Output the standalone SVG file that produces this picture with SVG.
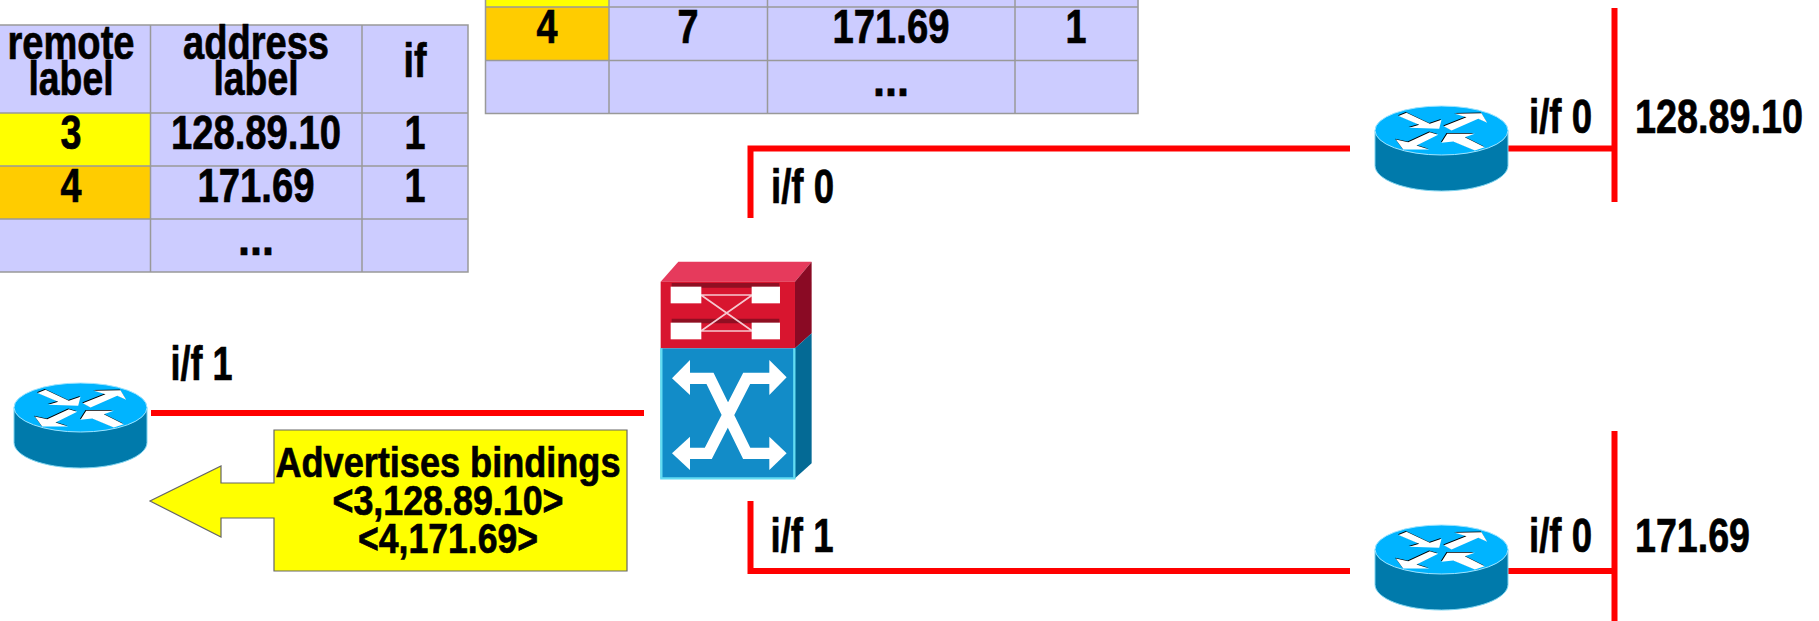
<svg xmlns="http://www.w3.org/2000/svg" xmlns:xlink="http://www.w3.org/1999/xlink" width="1819" height="621" viewBox="0 0 1819 621">
<style>
text{font-family:"Liberation Sans",Arial,sans-serif;font-weight:bold;fill:#000;stroke:#000;stroke-width:.7;text-anchor:middle}
.t{font-size:48px}.s{font-size:43px}
.cell{fill:#ccf}.y{fill:#ff0}.o{fill:#fc0}
.grid{stroke:#999;stroke-width:1.5;fill:none}
.red{stroke:#f00;stroke-width:6;fill:none}
</style>
<defs>
<g id="router">
<path d="M-66.5 0V35C-66.5 49-36.7 60.5-0 60.5S66.5 49 66.5 35V0Z" fill="#007aab"/>
<path d="M-66.5 0V35C-66.5 49-36.7 60.5-0 60.5S66.5 49 66.5 35V0" fill="none" stroke="#7fd4f0" stroke-width="1"/>
<ellipse rx="66.5" ry="24.5" fill="#00b4ff" stroke="#9fe4ff" stroke-width="1"/>
<g fill="#000" transform="translate(-.7 -.8)">
<polygon points="-43,-14.5 -35,-17.7 -11.7,-6.7 0,-10.7 -2.3,-1.7 -32.3,-2.7 -22.3,-5.7"/>
<polygon points="2.3,-4.3 25,-13.3 13.3,-16.7 40,-17.3 45.7,-7.7 36.7,-11.7 10,0"/>
<polygon points="-3.3,4.3 -11.7,1.7 -33.3,11.7 -45.7,9 -38.3,19 -12.3,19 -25,15"/>
<polygon points="43.3,16.7 33.3,20 11.7,11 0,12.3 5.7,3.3 33.3,3.3 23.3,6.7"/>
</g>
<g fill="#fff">
<polygon points="-43,-14.5 -35,-17.7 -11.7,-6.7 0,-10.7 -2.3,-1.7 -32.3,-2.7 -22.3,-5.7"/>
<polygon points="2.3,-4.3 25,-13.3 13.3,-16.7 40,-17.3 45.7,-7.7 36.7,-11.7 10,0"/>
<polygon points="-3.3,4.3 -11.7,1.7 -33.3,11.7 -45.7,9 -38.3,19 -12.3,19 -25,15"/>
<polygon points="43.3,16.7 33.3,20 11.7,11 0,12.3 5.7,3.3 33.3,3.3 23.3,6.7"/>
</g>
</g>
</defs>
<rect width="1819" height="621" fill="#fff"/>

<g id="table-left">
<rect class="cell" x="0" y="25" width="468" height="247"/>
<rect class="y" x="0" y="113" width="150.5" height="53"/>
<rect class="o" x="0" y="166" width="150.5" height="53"/>
<path class="grid" d="M0 25H468V272H0M0 113H468M0 166H468M0 219H468M150.5 25V272M362 25V272"/>
<text class="t" x="71" y="59" textLength="127" lengthAdjust="spacingAndGlyphs">remote</text>
<text class="t" x="71" y="95" textLength="85" lengthAdjust="spacingAndGlyphs">label</text>
<text class="t" x="256" y="59" textLength="146" lengthAdjust="spacingAndGlyphs">address</text>
<text class="t" x="256" y="95" textLength="85" lengthAdjust="spacingAndGlyphs">label</text>
<text class="t" x="415" y="77" textLength="23" lengthAdjust="spacingAndGlyphs">if</text>
<text class="t" x="71" y="149" textLength="21" lengthAdjust="spacingAndGlyphs">3</text>
<text class="t" x="256" y="149" textLength="170" lengthAdjust="spacingAndGlyphs">128.89.10</text>
<text class="t" x="415" y="149" textLength="21" lengthAdjust="spacingAndGlyphs">1</text>
<text class="t" x="71" y="202" textLength="21" lengthAdjust="spacingAndGlyphs">4</text>
<text class="t" x="256" y="202" textLength="117" lengthAdjust="spacingAndGlyphs">171.69</text>
<text class="t" x="415" y="202" textLength="21" lengthAdjust="spacingAndGlyphs">1</text>
<text class="t" x="256" y="255" textLength="36" lengthAdjust="spacingAndGlyphs">...</text>
</g>

<g id="table-top">
<rect class="cell" x="485.5" y="0" width="653" height="113.5"/>
<rect class="y" x="485.5" y="0" width="123.5" height="7"/>
<rect class="o" x="485.5" y="7" width="123.5" height="53.5"/>
<path class="grid" d="M485.5 0V113.5H1138V0M485.5 7H1138M485.5 60.5H1138M609 0V113.5M767.5 0V113.5M1015 0V113.5"/>
<text class="t" x="547" y="43" textLength="21" lengthAdjust="spacingAndGlyphs">4</text>
<text class="t" x="688" y="43" textLength="21" lengthAdjust="spacingAndGlyphs">7</text>
<text class="t" x="891" y="43" textLength="117" lengthAdjust="spacingAndGlyphs">171.69</text>
<text class="t" x="1076" y="43" textLength="21" lengthAdjust="spacingAndGlyphs">1</text>
<text class="t" x="891" y="96" textLength="36" lengthAdjust="spacingAndGlyphs">...</text>
</g>

<g id="connectors">
<path class="red" d="M151 413H644"/>
<path class="red" d="M750.5 218V148.5H1350"/>
<path class="red" d="M750.5 501V571H1350"/>
<path class="red" d="M1508 148.5H1614"/>
<path class="red" d="M1614.5 8V202"/>
<path class="red" d="M1508 571H1614"/>
<path class="red" d="M1614.5 431V621"/>
</g>

<g id="router-left"><use href="#router" xlink:href="#router" x="80.5" y="407.5"/></g>
<g id="router-top"><use href="#router" xlink:href="#router" x="1441.5" y="130.5"/></g>
<g id="router-bottom"><use href="#router" xlink:href="#router" x="1441.5" y="549.5"/></g>

<g id="switch" transform="translate(640 250) scale(.3333)">
<polygon points="62,95 115,35 515,35 465,95" fill="#e63a5c"/>
<polygon points="465,95 515,35 515,250 465,295" fill="#8a0a24"/>
<rect x="62" y="95" width="403" height="200" fill="#d8152f"/>
<path d="M95 106H418M95 213H418" stroke="#8f0f22" stroke-width="14" fill="none"/>
<path d="M183 135H337M183 243H337M183 135L337 243M183 243L337 135" stroke="#f6c8d0" stroke-width="5" fill="none"/>
<g fill="#fff"><rect x="92" y="110" width="92" height="50"/><rect x="335" y="110" width="85" height="50"/><rect x="92" y="218" width="92" height="50"/><rect x="335" y="218" width="85" height="50"/></g>
<polygon points="465,295 515,250 515,640 465,685" fill="#046a95"/>
<rect x="62" y="295" width="403" height="390" fill="#128cc8"/>
<path d="M463 295V685H64V295" fill="none" stroke="#62dcf2" stroke-width="7"/>
<path d="M140 385H210L320 610H400M140 610H205L320 385H400" fill="none" stroke="#fff" stroke-width="34"/>
<g fill="#fff"><polygon points="96,385 150,330 150,435"/><polygon points="440,382 388,330 388,435"/><polygon points="96,610 150,560 150,660"/><polygon points="440,610 388,560 388,660"/></g>
</g>

<g id="callout">
<polygon points="274,430 627,430 627,571 274,571 274,518 221,518 221,537 150,501 221,466 221,483 274,483" fill="#ff0" stroke="#666" stroke-width="1.2"/>
<text class="s" x="448" y="477" textLength="345" lengthAdjust="spacingAndGlyphs">Advertises bindings</text>
<text class="s" x="448" y="515" textLength="231" lengthAdjust="spacingAndGlyphs">&lt;3,128.89.10&gt;</text>
<text class="s" x="448" y="553" textLength="180" lengthAdjust="spacingAndGlyphs">&lt;4,171.69&gt;</text>
</g>

<g id="labels">
<text class="t" x="201.5" y="380" textLength="62" lengthAdjust="spacingAndGlyphs">i/f 1</text>
<text class="t" x="802.5" y="203" textLength="63" lengthAdjust="spacingAndGlyphs">i/f 0</text>
<text class="t" x="802" y="552" textLength="63" lengthAdjust="spacingAndGlyphs">i/f 1</text>
<text class="t" x="1560.5" y="133" textLength="63" lengthAdjust="spacingAndGlyphs">i/f 0</text>
<text class="t" x="1560.5" y="552" textLength="63" lengthAdjust="spacingAndGlyphs">i/f 0</text>
<text class="t" x="1719" y="133" textLength="168" lengthAdjust="spacingAndGlyphs">128.89.10</text>
<text class="t" x="1692.5" y="552" textLength="115" lengthAdjust="spacingAndGlyphs">171.69</text>
</g>
</svg>
